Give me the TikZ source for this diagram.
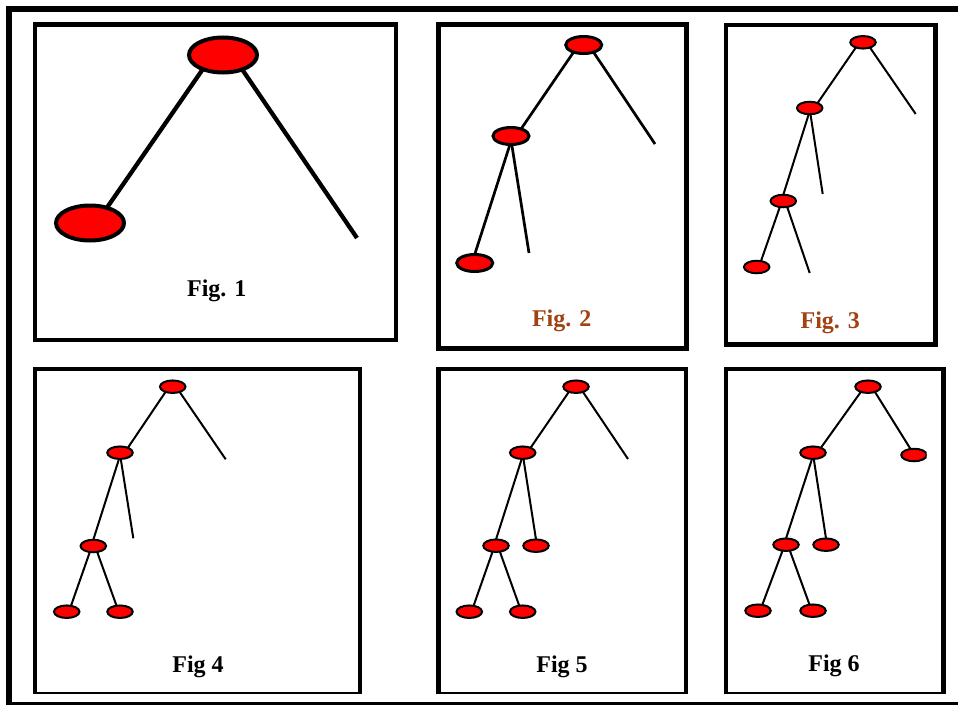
\documentclass[tikz,border=0pt]{standalone}
\usepackage{fontspec}
\setmainfont{Liberation Serif}
\usetikzlibrary{shapes.geometric}
\definecolor{figbrown}{RGB}{160,66,18}
\begin{document}
\begin{tikzpicture}[x=1pt,y=-1pt,
  panel/.style={draw=black, line width=4.5pt},
  outerframe/.style={draw=black, line width=5.5pt},
  treenode/.style={ellipse, draw=black, fill=red, inner sep=0pt, outer sep=0pt},
  nodeL/.style={treenode, line width=4pt, minimum width=68pt, minimum height=35pt},
  nodeM/.style={treenode, line width=3pt, minimum width=36pt, minimum height=17pt},
  nodeS/.style={treenode, line width=2pt, minimum width=25.5pt, minimum height=12.5pt},
  edgeL/.style={draw=black, line width=4.3pt},
  edgeM/.style={draw=black, line width=2.7pt},
  edgeS/.style={draw=black, line width=2pt},
  caption/.style={font=\bfseries\fontsize{24}{28}\selectfont, anchor=base, inner sep=0pt},
]
\clip (0,0) rectangle (958,704);

% outer frame
\draw[outerframe] (9,9) rectangle (962,704.5);

% top row of panels
\draw[panel] (34.8,24.7) rectangle (396,340);
\draw[panel] (438.5,24.7) rectangle (686.5,348.5);
\draw[panel] (726,25) rectangle (935.7,344.5);

% bottom row of panels, cut at the lower edge
\begin{scope}
  \clip (0,0) rectangle (958,693);
  \draw[panel] (34.8,369) rectangle (360,694);
  \draw[panel] (438.5,369) rectangle (686,694);
  \draw[panel] (726,369) rectangle (943.5,694);
\end{scope}

% Fig. 1
\node[nodeL] (a1) at (223,55) {};
\node[nodeL] (a2) at (90,223) {};
\coordinate (a1e) at (357,238);
\draw[edgeL] (a1.215) -- (a2.42);
\draw[edgeL] (a1.323) -- (a1e);
\node[caption] (t1) at (216.8,296.7) {Fig. 1};

% Fig. 2
\node[nodeM] (b1) at (583.7,45) {};
\node[nodeM] (b2) at (511,136) {};
\node[nodeM] (b3) at (474.7,263) {};
\coordinate (b1e) at (655,144);
\coordinate (b2e) at (529,253);
\draw[edgeM] (b1.215) -- (b2.35);
\draw[edgeM] (b1.324) -- (b1e);
\draw[edgeM] (b2.263) -- (b3.90);
\draw[edgeM] (b2.275) -- (b2e);
\node[caption, text=figbrown] (t2) at (561.7,326.7) {Fig. 2};

% Fig. 3
\node[nodeS] (c1) at (863,42.3) {};
\node[nodeS] (c2) at (809.7,108) {};
\node[nodeS] (c3) at (783.3,201) {};
\node[nodeS] (c4) at (756.7,267) {};
\coordinate (c1e) at (915.7,114);
\coordinate (c2e) at (822.7,194);
\coordinate (c3e) at (809.7,273);
\draw[edgeS] (c1.216) -- (c2.32);
\draw[edgeS] (c1.323) -- (c1e);
\draw[edgeS] (c2.261) -- (c3.90);
\draw[edgeS] (c2.277) -- (c2e);
\draw[edgeS] (c3.240) -- (c4.54);
\draw[edgeS] (c3.303) -- (c3e);
\node[caption, text=figbrown] (t3) at (830.3,328.3) {Fig. 3};

% Fig 4
\node[nodeS] (d1) at (172.7,386.7) {};
\node[nodeS] (d2) at (120,452.7) {};
\node[nodeS] (d3) at (93.3,546) {};
\node[nodeS] (d4) at (66.7,611.7) {};
\node[nodeS] (d5) at (120,611.7) {};
\coordinate (d1e) at (225.7,459.3);
\coordinate (d2e) at (133.3,538.3);
\draw[edgeS] (d1.216) -- (d2.32);
\draw[edgeS] (d1.323) -- (d1e);
\draw[edgeS] (d2.261) -- (d3.90);
\draw[edgeS] (d2.277) -- (d2e);
\draw[edgeS] (d3.240) -- (d4.54);
\draw[edgeS] (d3.303) -- (d5.120);
\node[caption] (t4) at (198,672) {Fig 4};

% Fig 5
\node[nodeS] (e1) at (576,386.7) {};
\node[nodeS] (e2) at (522.7,452.7) {};
\node[nodeS] (e3) at (496,545.7) {};
\node[nodeS] (e4) at (536,545.7) {};
\node[nodeS] (e5) at (469.3,611.7) {};
\node[nodeS] (e6) at (522.7,611.7) {};
\coordinate (e1e) at (628,459);
\draw[edgeS] (e1.216) -- (e2.32);
\draw[edgeS] (e1.323) -- (e1e);
\draw[edgeS] (e2.261) -- (e3.90);
\draw[edgeS] (e2.277) -- (e4.90);
\draw[edgeS] (e3.240) -- (e5.54);
\draw[edgeS] (e3.303) -- (e6.120);
\node[caption] (t5) at (562,672) {Fig 5};

% Fig 6
\node[nodeS] (f1) at (868,386.7) {};
\node[nodeS] (f2) at (813,452.7) {};
\node[nodeS] (f3) at (786,544.7) {};
\node[nodeS] (f4) at (826,544.7) {};
\node[nodeS] (f5) at (758,610.7) {};
\node[nodeS] (f6) at (813,610.7) {};
\begin{scope}
  \clip (0,0) rectangle (926.7,704);
  \node[nodeS] (f7) at (914,455) {};
\end{scope}
\draw[edgeS] (f1.216) -- (f2.32);
\draw[edgeS] (f1.323) -- (f7.120);
\draw[edgeS] (f2.261) -- (f3.90);
\draw[edgeS] (f2.277) -- (f4.90);
\draw[edgeS] (f3.240) -- (f5.54);
\draw[edgeS] (f3.303) -- (f6.120);
\node[caption] (t6) at (834,671) {Fig 6};
\end{tikzpicture}
\end{document}
